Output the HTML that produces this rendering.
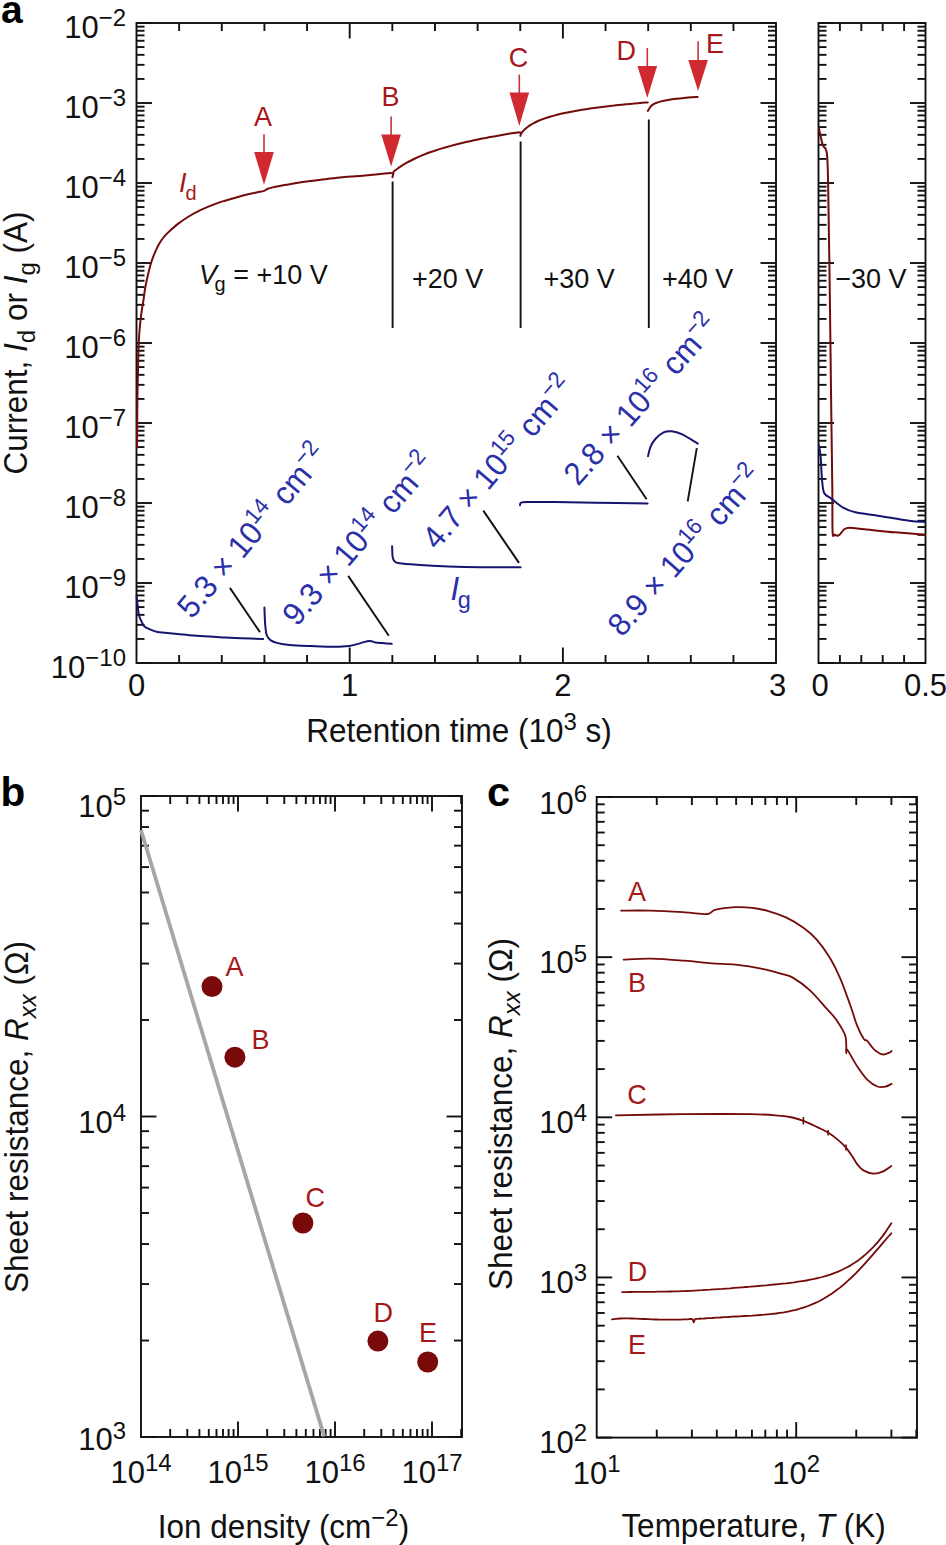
<!DOCTYPE html>
<html><head><meta charset="utf-8"><style>
html,body{margin:0;padding:0;background:#fff;overflow:hidden;width:946px;height:1545px;}
svg{display:block;}
text{font-family:"Liberation Sans",sans-serif;}
</style></head><body>
<svg width="946" height="1545" viewBox="0 0 946 1545">
<rect width="946" height="1545" fill="#fff"/>
<rect x="136.5" y="23" width="639.5" height="640" fill="none" stroke="#111" stroke-width="1.9"/>
<rect x="818.5" y="23" width="107" height="640" fill="none" stroke="#111" stroke-width="1.9"/>
<line x1="136.5" y1="23" x2="152" y2="23" stroke="#111" stroke-width="1.9" />
<line x1="776" y1="23" x2="760.5" y2="23" stroke="#111" stroke-width="1.9" />
<line x1="136.5" y1="78.92" x2="144.5" y2="78.92" stroke="#111" stroke-width="1.9" />
<line x1="776" y1="78.92" x2="768" y2="78.92" stroke="#111" stroke-width="1.9" />
<line x1="136.5" y1="64.83" x2="144.5" y2="64.83" stroke="#111" stroke-width="1.9" />
<line x1="776" y1="64.83" x2="768" y2="64.83" stroke="#111" stroke-width="1.9" />
<line x1="136.5" y1="54.84" x2="144.5" y2="54.84" stroke="#111" stroke-width="1.9" />
<line x1="776" y1="54.84" x2="768" y2="54.84" stroke="#111" stroke-width="1.9" />
<line x1="136.5" y1="47.08" x2="144.5" y2="47.08" stroke="#111" stroke-width="1.9" />
<line x1="776" y1="47.08" x2="768" y2="47.08" stroke="#111" stroke-width="1.9" />
<line x1="136.5" y1="40.75" x2="144.5" y2="40.75" stroke="#111" stroke-width="1.9" />
<line x1="776" y1="40.75" x2="768" y2="40.75" stroke="#111" stroke-width="1.9" />
<line x1="136.5" y1="35.39" x2="144.5" y2="35.39" stroke="#111" stroke-width="1.9" />
<line x1="776" y1="35.39" x2="768" y2="35.39" stroke="#111" stroke-width="1.9" />
<line x1="136.5" y1="30.75" x2="144.5" y2="30.75" stroke="#111" stroke-width="1.9" />
<line x1="776" y1="30.75" x2="768" y2="30.75" stroke="#111" stroke-width="1.9" />
<line x1="136.5" y1="26.66" x2="144.5" y2="26.66" stroke="#111" stroke-width="1.9" />
<line x1="776" y1="26.66" x2="768" y2="26.66" stroke="#111" stroke-width="1.9" />
<line x1="136.5" y1="103" x2="152" y2="103" stroke="#111" stroke-width="1.9" />
<line x1="776" y1="103" x2="760.5" y2="103" stroke="#111" stroke-width="1.9" />
<line x1="136.5" y1="158.92" x2="144.5" y2="158.92" stroke="#111" stroke-width="1.9" />
<line x1="776" y1="158.92" x2="768" y2="158.92" stroke="#111" stroke-width="1.9" />
<line x1="136.5" y1="144.83" x2="144.5" y2="144.83" stroke="#111" stroke-width="1.9" />
<line x1="776" y1="144.83" x2="768" y2="144.83" stroke="#111" stroke-width="1.9" />
<line x1="136.5" y1="134.84" x2="144.5" y2="134.84" stroke="#111" stroke-width="1.9" />
<line x1="776" y1="134.84" x2="768" y2="134.84" stroke="#111" stroke-width="1.9" />
<line x1="136.5" y1="127.08" x2="144.5" y2="127.08" stroke="#111" stroke-width="1.9" />
<line x1="776" y1="127.08" x2="768" y2="127.08" stroke="#111" stroke-width="1.9" />
<line x1="136.5" y1="120.75" x2="144.5" y2="120.75" stroke="#111" stroke-width="1.9" />
<line x1="776" y1="120.75" x2="768" y2="120.75" stroke="#111" stroke-width="1.9" />
<line x1="136.5" y1="115.39" x2="144.5" y2="115.39" stroke="#111" stroke-width="1.9" />
<line x1="776" y1="115.39" x2="768" y2="115.39" stroke="#111" stroke-width="1.9" />
<line x1="136.5" y1="110.75" x2="144.5" y2="110.75" stroke="#111" stroke-width="1.9" />
<line x1="776" y1="110.75" x2="768" y2="110.75" stroke="#111" stroke-width="1.9" />
<line x1="136.5" y1="106.66" x2="144.5" y2="106.66" stroke="#111" stroke-width="1.9" />
<line x1="776" y1="106.66" x2="768" y2="106.66" stroke="#111" stroke-width="1.9" />
<line x1="136.5" y1="183" x2="152" y2="183" stroke="#111" stroke-width="1.9" />
<line x1="776" y1="183" x2="760.5" y2="183" stroke="#111" stroke-width="1.9" />
<line x1="136.5" y1="238.92" x2="144.5" y2="238.92" stroke="#111" stroke-width="1.9" />
<line x1="776" y1="238.92" x2="768" y2="238.92" stroke="#111" stroke-width="1.9" />
<line x1="136.5" y1="224.83" x2="144.5" y2="224.83" stroke="#111" stroke-width="1.9" />
<line x1="776" y1="224.83" x2="768" y2="224.83" stroke="#111" stroke-width="1.9" />
<line x1="136.5" y1="214.84" x2="144.5" y2="214.84" stroke="#111" stroke-width="1.9" />
<line x1="776" y1="214.84" x2="768" y2="214.84" stroke="#111" stroke-width="1.9" />
<line x1="136.5" y1="207.08" x2="144.5" y2="207.08" stroke="#111" stroke-width="1.9" />
<line x1="776" y1="207.08" x2="768" y2="207.08" stroke="#111" stroke-width="1.9" />
<line x1="136.5" y1="200.75" x2="144.5" y2="200.75" stroke="#111" stroke-width="1.9" />
<line x1="776" y1="200.75" x2="768" y2="200.75" stroke="#111" stroke-width="1.9" />
<line x1="136.5" y1="195.39" x2="144.5" y2="195.39" stroke="#111" stroke-width="1.9" />
<line x1="776" y1="195.39" x2="768" y2="195.39" stroke="#111" stroke-width="1.9" />
<line x1="136.5" y1="190.75" x2="144.5" y2="190.75" stroke="#111" stroke-width="1.9" />
<line x1="776" y1="190.75" x2="768" y2="190.75" stroke="#111" stroke-width="1.9" />
<line x1="136.5" y1="186.66" x2="144.5" y2="186.66" stroke="#111" stroke-width="1.9" />
<line x1="776" y1="186.66" x2="768" y2="186.66" stroke="#111" stroke-width="1.9" />
<line x1="136.5" y1="263" x2="152" y2="263" stroke="#111" stroke-width="1.9" />
<line x1="776" y1="263" x2="760.5" y2="263" stroke="#111" stroke-width="1.9" />
<line x1="136.5" y1="318.92" x2="144.5" y2="318.92" stroke="#111" stroke-width="1.9" />
<line x1="776" y1="318.92" x2="768" y2="318.92" stroke="#111" stroke-width="1.9" />
<line x1="136.5" y1="304.83" x2="144.5" y2="304.83" stroke="#111" stroke-width="1.9" />
<line x1="776" y1="304.83" x2="768" y2="304.83" stroke="#111" stroke-width="1.9" />
<line x1="136.5" y1="294.84" x2="144.5" y2="294.84" stroke="#111" stroke-width="1.9" />
<line x1="776" y1="294.84" x2="768" y2="294.84" stroke="#111" stroke-width="1.9" />
<line x1="136.5" y1="287.08" x2="144.5" y2="287.08" stroke="#111" stroke-width="1.9" />
<line x1="776" y1="287.08" x2="768" y2="287.08" stroke="#111" stroke-width="1.9" />
<line x1="136.5" y1="280.75" x2="144.5" y2="280.75" stroke="#111" stroke-width="1.9" />
<line x1="776" y1="280.75" x2="768" y2="280.75" stroke="#111" stroke-width="1.9" />
<line x1="136.5" y1="275.39" x2="144.5" y2="275.39" stroke="#111" stroke-width="1.9" />
<line x1="776" y1="275.39" x2="768" y2="275.39" stroke="#111" stroke-width="1.9" />
<line x1="136.5" y1="270.75" x2="144.5" y2="270.75" stroke="#111" stroke-width="1.9" />
<line x1="776" y1="270.75" x2="768" y2="270.75" stroke="#111" stroke-width="1.9" />
<line x1="136.5" y1="266.66" x2="144.5" y2="266.66" stroke="#111" stroke-width="1.9" />
<line x1="776" y1="266.66" x2="768" y2="266.66" stroke="#111" stroke-width="1.9" />
<line x1="136.5" y1="343" x2="152" y2="343" stroke="#111" stroke-width="1.9" />
<line x1="776" y1="343" x2="760.5" y2="343" stroke="#111" stroke-width="1.9" />
<line x1="136.5" y1="398.92" x2="144.5" y2="398.92" stroke="#111" stroke-width="1.9" />
<line x1="776" y1="398.92" x2="768" y2="398.92" stroke="#111" stroke-width="1.9" />
<line x1="136.5" y1="384.83" x2="144.5" y2="384.83" stroke="#111" stroke-width="1.9" />
<line x1="776" y1="384.83" x2="768" y2="384.83" stroke="#111" stroke-width="1.9" />
<line x1="136.5" y1="374.84" x2="144.5" y2="374.84" stroke="#111" stroke-width="1.9" />
<line x1="776" y1="374.84" x2="768" y2="374.84" stroke="#111" stroke-width="1.9" />
<line x1="136.5" y1="367.08" x2="144.5" y2="367.08" stroke="#111" stroke-width="1.9" />
<line x1="776" y1="367.08" x2="768" y2="367.08" stroke="#111" stroke-width="1.9" />
<line x1="136.5" y1="360.75" x2="144.5" y2="360.75" stroke="#111" stroke-width="1.9" />
<line x1="776" y1="360.75" x2="768" y2="360.75" stroke="#111" stroke-width="1.9" />
<line x1="136.5" y1="355.39" x2="144.5" y2="355.39" stroke="#111" stroke-width="1.9" />
<line x1="776" y1="355.39" x2="768" y2="355.39" stroke="#111" stroke-width="1.9" />
<line x1="136.5" y1="350.75" x2="144.5" y2="350.75" stroke="#111" stroke-width="1.9" />
<line x1="776" y1="350.75" x2="768" y2="350.75" stroke="#111" stroke-width="1.9" />
<line x1="136.5" y1="346.66" x2="144.5" y2="346.66" stroke="#111" stroke-width="1.9" />
<line x1="776" y1="346.66" x2="768" y2="346.66" stroke="#111" stroke-width="1.9" />
<line x1="136.5" y1="423" x2="152" y2="423" stroke="#111" stroke-width="1.9" />
<line x1="776" y1="423" x2="760.5" y2="423" stroke="#111" stroke-width="1.9" />
<line x1="136.5" y1="478.92" x2="144.5" y2="478.92" stroke="#111" stroke-width="1.9" />
<line x1="776" y1="478.92" x2="768" y2="478.92" stroke="#111" stroke-width="1.9" />
<line x1="136.5" y1="464.83" x2="144.5" y2="464.83" stroke="#111" stroke-width="1.9" />
<line x1="776" y1="464.83" x2="768" y2="464.83" stroke="#111" stroke-width="1.9" />
<line x1="136.5" y1="454.84" x2="144.5" y2="454.84" stroke="#111" stroke-width="1.9" />
<line x1="776" y1="454.84" x2="768" y2="454.84" stroke="#111" stroke-width="1.9" />
<line x1="136.5" y1="447.08" x2="144.5" y2="447.08" stroke="#111" stroke-width="1.9" />
<line x1="776" y1="447.08" x2="768" y2="447.08" stroke="#111" stroke-width="1.9" />
<line x1="136.5" y1="440.75" x2="144.5" y2="440.75" stroke="#111" stroke-width="1.9" />
<line x1="776" y1="440.75" x2="768" y2="440.75" stroke="#111" stroke-width="1.9" />
<line x1="136.5" y1="435.39" x2="144.5" y2="435.39" stroke="#111" stroke-width="1.9" />
<line x1="776" y1="435.39" x2="768" y2="435.39" stroke="#111" stroke-width="1.9" />
<line x1="136.5" y1="430.75" x2="144.5" y2="430.75" stroke="#111" stroke-width="1.9" />
<line x1="776" y1="430.75" x2="768" y2="430.75" stroke="#111" stroke-width="1.9" />
<line x1="136.5" y1="426.66" x2="144.5" y2="426.66" stroke="#111" stroke-width="1.9" />
<line x1="776" y1="426.66" x2="768" y2="426.66" stroke="#111" stroke-width="1.9" />
<line x1="136.5" y1="503" x2="152" y2="503" stroke="#111" stroke-width="1.9" />
<line x1="776" y1="503" x2="760.5" y2="503" stroke="#111" stroke-width="1.9" />
<line x1="136.5" y1="558.92" x2="144.5" y2="558.92" stroke="#111" stroke-width="1.9" />
<line x1="776" y1="558.92" x2="768" y2="558.92" stroke="#111" stroke-width="1.9" />
<line x1="136.5" y1="544.83" x2="144.5" y2="544.83" stroke="#111" stroke-width="1.9" />
<line x1="776" y1="544.83" x2="768" y2="544.83" stroke="#111" stroke-width="1.9" />
<line x1="136.5" y1="534.84" x2="144.5" y2="534.84" stroke="#111" stroke-width="1.9" />
<line x1="776" y1="534.84" x2="768" y2="534.84" stroke="#111" stroke-width="1.9" />
<line x1="136.5" y1="527.08" x2="144.5" y2="527.08" stroke="#111" stroke-width="1.9" />
<line x1="776" y1="527.08" x2="768" y2="527.08" stroke="#111" stroke-width="1.9" />
<line x1="136.5" y1="520.75" x2="144.5" y2="520.75" stroke="#111" stroke-width="1.9" />
<line x1="776" y1="520.75" x2="768" y2="520.75" stroke="#111" stroke-width="1.9" />
<line x1="136.5" y1="515.39" x2="144.5" y2="515.39" stroke="#111" stroke-width="1.9" />
<line x1="776" y1="515.39" x2="768" y2="515.39" stroke="#111" stroke-width="1.9" />
<line x1="136.5" y1="510.75" x2="144.5" y2="510.75" stroke="#111" stroke-width="1.9" />
<line x1="776" y1="510.75" x2="768" y2="510.75" stroke="#111" stroke-width="1.9" />
<line x1="136.5" y1="506.66" x2="144.5" y2="506.66" stroke="#111" stroke-width="1.9" />
<line x1="776" y1="506.66" x2="768" y2="506.66" stroke="#111" stroke-width="1.9" />
<line x1="136.5" y1="583" x2="152" y2="583" stroke="#111" stroke-width="1.9" />
<line x1="776" y1="583" x2="760.5" y2="583" stroke="#111" stroke-width="1.9" />
<line x1="136.5" y1="638.92" x2="144.5" y2="638.92" stroke="#111" stroke-width="1.9" />
<line x1="776" y1="638.92" x2="768" y2="638.92" stroke="#111" stroke-width="1.9" />
<line x1="136.5" y1="624.83" x2="144.5" y2="624.83" stroke="#111" stroke-width="1.9" />
<line x1="776" y1="624.83" x2="768" y2="624.83" stroke="#111" stroke-width="1.9" />
<line x1="136.5" y1="614.84" x2="144.5" y2="614.84" stroke="#111" stroke-width="1.9" />
<line x1="776" y1="614.84" x2="768" y2="614.84" stroke="#111" stroke-width="1.9" />
<line x1="136.5" y1="607.08" x2="144.5" y2="607.08" stroke="#111" stroke-width="1.9" />
<line x1="776" y1="607.08" x2="768" y2="607.08" stroke="#111" stroke-width="1.9" />
<line x1="136.5" y1="600.75" x2="144.5" y2="600.75" stroke="#111" stroke-width="1.9" />
<line x1="776" y1="600.75" x2="768" y2="600.75" stroke="#111" stroke-width="1.9" />
<line x1="136.5" y1="595.39" x2="144.5" y2="595.39" stroke="#111" stroke-width="1.9" />
<line x1="776" y1="595.39" x2="768" y2="595.39" stroke="#111" stroke-width="1.9" />
<line x1="136.5" y1="590.75" x2="144.5" y2="590.75" stroke="#111" stroke-width="1.9" />
<line x1="776" y1="590.75" x2="768" y2="590.75" stroke="#111" stroke-width="1.9" />
<line x1="136.5" y1="586.66" x2="144.5" y2="586.66" stroke="#111" stroke-width="1.9" />
<line x1="776" y1="586.66" x2="768" y2="586.66" stroke="#111" stroke-width="1.9" />
<line x1="136.5" y1="663" x2="152" y2="663" stroke="#111" stroke-width="1.9" />
<line x1="776" y1="663" x2="760.5" y2="663" stroke="#111" stroke-width="1.9" />
<line x1="818.5" y1="23" x2="834" y2="23" stroke="#111" stroke-width="1.9" />
<line x1="925.5" y1="23" x2="910" y2="23" stroke="#111" stroke-width="1.9" />
<line x1="818.5" y1="78.92" x2="826.5" y2="78.92" stroke="#111" stroke-width="1.9" />
<line x1="925.5" y1="78.92" x2="917.5" y2="78.92" stroke="#111" stroke-width="1.9" />
<line x1="818.5" y1="64.83" x2="826.5" y2="64.83" stroke="#111" stroke-width="1.9" />
<line x1="925.5" y1="64.83" x2="917.5" y2="64.83" stroke="#111" stroke-width="1.9" />
<line x1="818.5" y1="54.84" x2="826.5" y2="54.84" stroke="#111" stroke-width="1.9" />
<line x1="925.5" y1="54.84" x2="917.5" y2="54.84" stroke="#111" stroke-width="1.9" />
<line x1="818.5" y1="47.08" x2="826.5" y2="47.08" stroke="#111" stroke-width="1.9" />
<line x1="925.5" y1="47.08" x2="917.5" y2="47.08" stroke="#111" stroke-width="1.9" />
<line x1="818.5" y1="40.75" x2="826.5" y2="40.75" stroke="#111" stroke-width="1.9" />
<line x1="925.5" y1="40.75" x2="917.5" y2="40.75" stroke="#111" stroke-width="1.9" />
<line x1="818.5" y1="35.39" x2="826.5" y2="35.39" stroke="#111" stroke-width="1.9" />
<line x1="925.5" y1="35.39" x2="917.5" y2="35.39" stroke="#111" stroke-width="1.9" />
<line x1="818.5" y1="30.75" x2="826.5" y2="30.75" stroke="#111" stroke-width="1.9" />
<line x1="925.5" y1="30.75" x2="917.5" y2="30.75" stroke="#111" stroke-width="1.9" />
<line x1="818.5" y1="26.66" x2="826.5" y2="26.66" stroke="#111" stroke-width="1.9" />
<line x1="925.5" y1="26.66" x2="917.5" y2="26.66" stroke="#111" stroke-width="1.9" />
<line x1="818.5" y1="103" x2="834" y2="103" stroke="#111" stroke-width="1.9" />
<line x1="925.5" y1="103" x2="910" y2="103" stroke="#111" stroke-width="1.9" />
<line x1="818.5" y1="158.92" x2="826.5" y2="158.92" stroke="#111" stroke-width="1.9" />
<line x1="925.5" y1="158.92" x2="917.5" y2="158.92" stroke="#111" stroke-width="1.9" />
<line x1="818.5" y1="144.83" x2="826.5" y2="144.83" stroke="#111" stroke-width="1.9" />
<line x1="925.5" y1="144.83" x2="917.5" y2="144.83" stroke="#111" stroke-width="1.9" />
<line x1="818.5" y1="134.84" x2="826.5" y2="134.84" stroke="#111" stroke-width="1.9" />
<line x1="925.5" y1="134.84" x2="917.5" y2="134.84" stroke="#111" stroke-width="1.9" />
<line x1="818.5" y1="127.08" x2="826.5" y2="127.08" stroke="#111" stroke-width="1.9" />
<line x1="925.5" y1="127.08" x2="917.5" y2="127.08" stroke="#111" stroke-width="1.9" />
<line x1="818.5" y1="120.75" x2="826.5" y2="120.75" stroke="#111" stroke-width="1.9" />
<line x1="925.5" y1="120.75" x2="917.5" y2="120.75" stroke="#111" stroke-width="1.9" />
<line x1="818.5" y1="115.39" x2="826.5" y2="115.39" stroke="#111" stroke-width="1.9" />
<line x1="925.5" y1="115.39" x2="917.5" y2="115.39" stroke="#111" stroke-width="1.9" />
<line x1="818.5" y1="110.75" x2="826.5" y2="110.75" stroke="#111" stroke-width="1.9" />
<line x1="925.5" y1="110.75" x2="917.5" y2="110.75" stroke="#111" stroke-width="1.9" />
<line x1="818.5" y1="106.66" x2="826.5" y2="106.66" stroke="#111" stroke-width="1.9" />
<line x1="925.5" y1="106.66" x2="917.5" y2="106.66" stroke="#111" stroke-width="1.9" />
<line x1="818.5" y1="183" x2="834" y2="183" stroke="#111" stroke-width="1.9" />
<line x1="925.5" y1="183" x2="910" y2="183" stroke="#111" stroke-width="1.9" />
<line x1="818.5" y1="238.92" x2="826.5" y2="238.92" stroke="#111" stroke-width="1.9" />
<line x1="925.5" y1="238.92" x2="917.5" y2="238.92" stroke="#111" stroke-width="1.9" />
<line x1="818.5" y1="224.83" x2="826.5" y2="224.83" stroke="#111" stroke-width="1.9" />
<line x1="925.5" y1="224.83" x2="917.5" y2="224.83" stroke="#111" stroke-width="1.9" />
<line x1="818.5" y1="214.84" x2="826.5" y2="214.84" stroke="#111" stroke-width="1.9" />
<line x1="925.5" y1="214.84" x2="917.5" y2="214.84" stroke="#111" stroke-width="1.9" />
<line x1="818.5" y1="207.08" x2="826.5" y2="207.08" stroke="#111" stroke-width="1.9" />
<line x1="925.5" y1="207.08" x2="917.5" y2="207.08" stroke="#111" stroke-width="1.9" />
<line x1="818.5" y1="200.75" x2="826.5" y2="200.75" stroke="#111" stroke-width="1.9" />
<line x1="925.5" y1="200.75" x2="917.5" y2="200.75" stroke="#111" stroke-width="1.9" />
<line x1="818.5" y1="195.39" x2="826.5" y2="195.39" stroke="#111" stroke-width="1.9" />
<line x1="925.5" y1="195.39" x2="917.5" y2="195.39" stroke="#111" stroke-width="1.9" />
<line x1="818.5" y1="190.75" x2="826.5" y2="190.75" stroke="#111" stroke-width="1.9" />
<line x1="925.5" y1="190.75" x2="917.5" y2="190.75" stroke="#111" stroke-width="1.9" />
<line x1="818.5" y1="186.66" x2="826.5" y2="186.66" stroke="#111" stroke-width="1.9" />
<line x1="925.5" y1="186.66" x2="917.5" y2="186.66" stroke="#111" stroke-width="1.9" />
<line x1="818.5" y1="263" x2="834" y2="263" stroke="#111" stroke-width="1.9" />
<line x1="925.5" y1="263" x2="910" y2="263" stroke="#111" stroke-width="1.9" />
<line x1="818.5" y1="318.92" x2="826.5" y2="318.92" stroke="#111" stroke-width="1.9" />
<line x1="925.5" y1="318.92" x2="917.5" y2="318.92" stroke="#111" stroke-width="1.9" />
<line x1="818.5" y1="304.83" x2="826.5" y2="304.83" stroke="#111" stroke-width="1.9" />
<line x1="925.5" y1="304.83" x2="917.5" y2="304.83" stroke="#111" stroke-width="1.9" />
<line x1="818.5" y1="294.84" x2="826.5" y2="294.84" stroke="#111" stroke-width="1.9" />
<line x1="925.5" y1="294.84" x2="917.5" y2="294.84" stroke="#111" stroke-width="1.9" />
<line x1="818.5" y1="287.08" x2="826.5" y2="287.08" stroke="#111" stroke-width="1.9" />
<line x1="925.5" y1="287.08" x2="917.5" y2="287.08" stroke="#111" stroke-width="1.9" />
<line x1="818.5" y1="280.75" x2="826.5" y2="280.75" stroke="#111" stroke-width="1.9" />
<line x1="925.5" y1="280.75" x2="917.5" y2="280.75" stroke="#111" stroke-width="1.9" />
<line x1="818.5" y1="275.39" x2="826.5" y2="275.39" stroke="#111" stroke-width="1.9" />
<line x1="925.5" y1="275.39" x2="917.5" y2="275.39" stroke="#111" stroke-width="1.9" />
<line x1="818.5" y1="270.75" x2="826.5" y2="270.75" stroke="#111" stroke-width="1.9" />
<line x1="925.5" y1="270.75" x2="917.5" y2="270.75" stroke="#111" stroke-width="1.9" />
<line x1="818.5" y1="266.66" x2="826.5" y2="266.66" stroke="#111" stroke-width="1.9" />
<line x1="925.5" y1="266.66" x2="917.5" y2="266.66" stroke="#111" stroke-width="1.9" />
<line x1="818.5" y1="343" x2="834" y2="343" stroke="#111" stroke-width="1.9" />
<line x1="925.5" y1="343" x2="910" y2="343" stroke="#111" stroke-width="1.9" />
<line x1="818.5" y1="398.92" x2="826.5" y2="398.92" stroke="#111" stroke-width="1.9" />
<line x1="925.5" y1="398.92" x2="917.5" y2="398.92" stroke="#111" stroke-width="1.9" />
<line x1="818.5" y1="384.83" x2="826.5" y2="384.83" stroke="#111" stroke-width="1.9" />
<line x1="925.5" y1="384.83" x2="917.5" y2="384.83" stroke="#111" stroke-width="1.9" />
<line x1="818.5" y1="374.84" x2="826.5" y2="374.84" stroke="#111" stroke-width="1.9" />
<line x1="925.5" y1="374.84" x2="917.5" y2="374.84" stroke="#111" stroke-width="1.9" />
<line x1="818.5" y1="367.08" x2="826.5" y2="367.08" stroke="#111" stroke-width="1.9" />
<line x1="925.5" y1="367.08" x2="917.5" y2="367.08" stroke="#111" stroke-width="1.9" />
<line x1="818.5" y1="360.75" x2="826.5" y2="360.75" stroke="#111" stroke-width="1.9" />
<line x1="925.5" y1="360.75" x2="917.5" y2="360.75" stroke="#111" stroke-width="1.9" />
<line x1="818.5" y1="355.39" x2="826.5" y2="355.39" stroke="#111" stroke-width="1.9" />
<line x1="925.5" y1="355.39" x2="917.5" y2="355.39" stroke="#111" stroke-width="1.9" />
<line x1="818.5" y1="350.75" x2="826.5" y2="350.75" stroke="#111" stroke-width="1.9" />
<line x1="925.5" y1="350.75" x2="917.5" y2="350.75" stroke="#111" stroke-width="1.9" />
<line x1="818.5" y1="346.66" x2="826.5" y2="346.66" stroke="#111" stroke-width="1.9" />
<line x1="925.5" y1="346.66" x2="917.5" y2="346.66" stroke="#111" stroke-width="1.9" />
<line x1="818.5" y1="423" x2="834" y2="423" stroke="#111" stroke-width="1.9" />
<line x1="925.5" y1="423" x2="910" y2="423" stroke="#111" stroke-width="1.9" />
<line x1="818.5" y1="478.92" x2="826.5" y2="478.92" stroke="#111" stroke-width="1.9" />
<line x1="925.5" y1="478.92" x2="917.5" y2="478.92" stroke="#111" stroke-width="1.9" />
<line x1="818.5" y1="464.83" x2="826.5" y2="464.83" stroke="#111" stroke-width="1.9" />
<line x1="925.5" y1="464.83" x2="917.5" y2="464.83" stroke="#111" stroke-width="1.9" />
<line x1="818.5" y1="454.84" x2="826.5" y2="454.84" stroke="#111" stroke-width="1.9" />
<line x1="925.5" y1="454.84" x2="917.5" y2="454.84" stroke="#111" stroke-width="1.9" />
<line x1="818.5" y1="447.08" x2="826.5" y2="447.08" stroke="#111" stroke-width="1.9" />
<line x1="925.5" y1="447.08" x2="917.5" y2="447.08" stroke="#111" stroke-width="1.9" />
<line x1="818.5" y1="440.75" x2="826.5" y2="440.75" stroke="#111" stroke-width="1.9" />
<line x1="925.5" y1="440.75" x2="917.5" y2="440.75" stroke="#111" stroke-width="1.9" />
<line x1="818.5" y1="435.39" x2="826.5" y2="435.39" stroke="#111" stroke-width="1.9" />
<line x1="925.5" y1="435.39" x2="917.5" y2="435.39" stroke="#111" stroke-width="1.9" />
<line x1="818.5" y1="430.75" x2="826.5" y2="430.75" stroke="#111" stroke-width="1.9" />
<line x1="925.5" y1="430.75" x2="917.5" y2="430.75" stroke="#111" stroke-width="1.9" />
<line x1="818.5" y1="426.66" x2="826.5" y2="426.66" stroke="#111" stroke-width="1.9" />
<line x1="925.5" y1="426.66" x2="917.5" y2="426.66" stroke="#111" stroke-width="1.9" />
<line x1="818.5" y1="503" x2="834" y2="503" stroke="#111" stroke-width="1.9" />
<line x1="925.5" y1="503" x2="910" y2="503" stroke="#111" stroke-width="1.9" />
<line x1="818.5" y1="558.92" x2="826.5" y2="558.92" stroke="#111" stroke-width="1.9" />
<line x1="925.5" y1="558.92" x2="917.5" y2="558.92" stroke="#111" stroke-width="1.9" />
<line x1="818.5" y1="544.83" x2="826.5" y2="544.83" stroke="#111" stroke-width="1.9" />
<line x1="925.5" y1="544.83" x2="917.5" y2="544.83" stroke="#111" stroke-width="1.9" />
<line x1="818.5" y1="534.84" x2="826.5" y2="534.84" stroke="#111" stroke-width="1.9" />
<line x1="925.5" y1="534.84" x2="917.5" y2="534.84" stroke="#111" stroke-width="1.9" />
<line x1="818.5" y1="527.08" x2="826.5" y2="527.08" stroke="#111" stroke-width="1.9" />
<line x1="925.5" y1="527.08" x2="917.5" y2="527.08" stroke="#111" stroke-width="1.9" />
<line x1="818.5" y1="520.75" x2="826.5" y2="520.75" stroke="#111" stroke-width="1.9" />
<line x1="925.5" y1="520.75" x2="917.5" y2="520.75" stroke="#111" stroke-width="1.9" />
<line x1="818.5" y1="515.39" x2="826.5" y2="515.39" stroke="#111" stroke-width="1.9" />
<line x1="925.5" y1="515.39" x2="917.5" y2="515.39" stroke="#111" stroke-width="1.9" />
<line x1="818.5" y1="510.75" x2="826.5" y2="510.75" stroke="#111" stroke-width="1.9" />
<line x1="925.5" y1="510.75" x2="917.5" y2="510.75" stroke="#111" stroke-width="1.9" />
<line x1="818.5" y1="506.66" x2="826.5" y2="506.66" stroke="#111" stroke-width="1.9" />
<line x1="925.5" y1="506.66" x2="917.5" y2="506.66" stroke="#111" stroke-width="1.9" />
<line x1="818.5" y1="583" x2="834" y2="583" stroke="#111" stroke-width="1.9" />
<line x1="925.5" y1="583" x2="910" y2="583" stroke="#111" stroke-width="1.9" />
<line x1="818.5" y1="638.92" x2="826.5" y2="638.92" stroke="#111" stroke-width="1.9" />
<line x1="925.5" y1="638.92" x2="917.5" y2="638.92" stroke="#111" stroke-width="1.9" />
<line x1="818.5" y1="624.83" x2="826.5" y2="624.83" stroke="#111" stroke-width="1.9" />
<line x1="925.5" y1="624.83" x2="917.5" y2="624.83" stroke="#111" stroke-width="1.9" />
<line x1="818.5" y1="614.84" x2="826.5" y2="614.84" stroke="#111" stroke-width="1.9" />
<line x1="925.5" y1="614.84" x2="917.5" y2="614.84" stroke="#111" stroke-width="1.9" />
<line x1="818.5" y1="607.08" x2="826.5" y2="607.08" stroke="#111" stroke-width="1.9" />
<line x1="925.5" y1="607.08" x2="917.5" y2="607.08" stroke="#111" stroke-width="1.9" />
<line x1="818.5" y1="600.75" x2="826.5" y2="600.75" stroke="#111" stroke-width="1.9" />
<line x1="925.5" y1="600.75" x2="917.5" y2="600.75" stroke="#111" stroke-width="1.9" />
<line x1="818.5" y1="595.39" x2="826.5" y2="595.39" stroke="#111" stroke-width="1.9" />
<line x1="925.5" y1="595.39" x2="917.5" y2="595.39" stroke="#111" stroke-width="1.9" />
<line x1="818.5" y1="590.75" x2="826.5" y2="590.75" stroke="#111" stroke-width="1.9" />
<line x1="925.5" y1="590.75" x2="917.5" y2="590.75" stroke="#111" stroke-width="1.9" />
<line x1="818.5" y1="586.66" x2="826.5" y2="586.66" stroke="#111" stroke-width="1.9" />
<line x1="925.5" y1="586.66" x2="917.5" y2="586.66" stroke="#111" stroke-width="1.9" />
<line x1="818.5" y1="663" x2="834" y2="663" stroke="#111" stroke-width="1.9" />
<line x1="925.5" y1="663" x2="910" y2="663" stroke="#111" stroke-width="1.9" />
<line x1="179.14" y1="23" x2="179.14" y2="31" stroke="#111" stroke-width="1.9" />
<line x1="179.14" y1="663" x2="179.14" y2="655" stroke="#111" stroke-width="1.9" />
<line x1="221.78" y1="23" x2="221.78" y2="31" stroke="#111" stroke-width="1.9" />
<line x1="221.78" y1="663" x2="221.78" y2="655" stroke="#111" stroke-width="1.9" />
<line x1="264.42" y1="23" x2="264.42" y2="31" stroke="#111" stroke-width="1.9" />
<line x1="264.42" y1="663" x2="264.42" y2="655" stroke="#111" stroke-width="1.9" />
<line x1="307.06" y1="23" x2="307.06" y2="31" stroke="#111" stroke-width="1.9" />
<line x1="307.06" y1="663" x2="307.06" y2="655" stroke="#111" stroke-width="1.9" />
<line x1="349.7" y1="23" x2="349.7" y2="38.5" stroke="#111" stroke-width="1.9" />
<line x1="349.7" y1="663" x2="349.7" y2="647.5" stroke="#111" stroke-width="1.9" />
<line x1="392.34" y1="23" x2="392.34" y2="31" stroke="#111" stroke-width="1.9" />
<line x1="392.34" y1="663" x2="392.34" y2="655" stroke="#111" stroke-width="1.9" />
<line x1="434.98" y1="23" x2="434.98" y2="31" stroke="#111" stroke-width="1.9" />
<line x1="434.98" y1="663" x2="434.98" y2="655" stroke="#111" stroke-width="1.9" />
<line x1="477.62" y1="23" x2="477.62" y2="31" stroke="#111" stroke-width="1.9" />
<line x1="477.62" y1="663" x2="477.62" y2="655" stroke="#111" stroke-width="1.9" />
<line x1="520.26" y1="23" x2="520.26" y2="31" stroke="#111" stroke-width="1.9" />
<line x1="520.26" y1="663" x2="520.26" y2="655" stroke="#111" stroke-width="1.9" />
<line x1="562.9" y1="23" x2="562.9" y2="38.5" stroke="#111" stroke-width="1.9" />
<line x1="562.9" y1="663" x2="562.9" y2="647.5" stroke="#111" stroke-width="1.9" />
<line x1="605.54" y1="23" x2="605.54" y2="31" stroke="#111" stroke-width="1.9" />
<line x1="605.54" y1="663" x2="605.54" y2="655" stroke="#111" stroke-width="1.9" />
<line x1="648.18" y1="23" x2="648.18" y2="31" stroke="#111" stroke-width="1.9" />
<line x1="648.18" y1="663" x2="648.18" y2="655" stroke="#111" stroke-width="1.9" />
<line x1="690.82" y1="23" x2="690.82" y2="31" stroke="#111" stroke-width="1.9" />
<line x1="690.82" y1="663" x2="690.82" y2="655" stroke="#111" stroke-width="1.9" />
<line x1="733.46" y1="23" x2="733.46" y2="31" stroke="#111" stroke-width="1.9" />
<line x1="733.46" y1="663" x2="733.46" y2="655" stroke="#111" stroke-width="1.9" />
<line x1="839.9" y1="23" x2="839.9" y2="31" stroke="#111" stroke-width="1.9" />
<line x1="839.9" y1="663" x2="839.9" y2="655" stroke="#111" stroke-width="1.9" />
<line x1="861.3" y1="23" x2="861.3" y2="31" stroke="#111" stroke-width="1.9" />
<line x1="861.3" y1="663" x2="861.3" y2="655" stroke="#111" stroke-width="1.9" />
<line x1="882.7" y1="23" x2="882.7" y2="31" stroke="#111" stroke-width="1.9" />
<line x1="882.7" y1="663" x2="882.7" y2="655" stroke="#111" stroke-width="1.9" />
<line x1="904.1" y1="23" x2="904.1" y2="31" stroke="#111" stroke-width="1.9" />
<line x1="904.1" y1="663" x2="904.1" y2="655" stroke="#111" stroke-width="1.9" />
<text transform="translate(126,37.8) scale(1,1.035)" font-size="31" text-anchor="end" fill="#111" >10<tspan font-size="24" dy="-11.5">&#8722;2</tspan></text>
<text transform="translate(126,117.8) scale(1,1.035)" font-size="31" text-anchor="end" fill="#111" >10<tspan font-size="24" dy="-11.5">&#8722;3</tspan></text>
<text transform="translate(126,197.8) scale(1,1.035)" font-size="31" text-anchor="end" fill="#111" >10<tspan font-size="24" dy="-11.5">&#8722;4</tspan></text>
<text transform="translate(126,277.8) scale(1,1.035)" font-size="31" text-anchor="end" fill="#111" >10<tspan font-size="24" dy="-11.5">&#8722;5</tspan></text>
<text transform="translate(126,357.8) scale(1,1.035)" font-size="31" text-anchor="end" fill="#111" >10<tspan font-size="24" dy="-11.5">&#8722;6</tspan></text>
<text transform="translate(126,437.8) scale(1,1.035)" font-size="31" text-anchor="end" fill="#111" >10<tspan font-size="24" dy="-11.5">&#8722;7</tspan></text>
<text transform="translate(126,517.8) scale(1,1.035)" font-size="31" text-anchor="end" fill="#111" >10<tspan font-size="24" dy="-11.5">&#8722;8</tspan></text>
<text transform="translate(126,597.8) scale(1,1.035)" font-size="31" text-anchor="end" fill="#111" >10<tspan font-size="24" dy="-11.5">&#8722;9</tspan></text>
<text transform="translate(126,677.8) scale(1,1.035)" font-size="31" text-anchor="end" fill="#111" >10<tspan font-size="24" dy="-11.5">&#8722;10</tspan></text>
<text transform="translate(136.5,695.5) scale(1,1.035)" font-size="31" text-anchor="middle" fill="#111" >0</text>
<text transform="translate(349.7,695.5) scale(1,1.035)" font-size="31" text-anchor="middle" fill="#111" >1</text>
<text transform="translate(562.9,695.5) scale(1,1.035)" font-size="31" text-anchor="middle" fill="#111" >2</text>
<text transform="translate(777.6,695.5) scale(1,1.035)" font-size="31" text-anchor="middle" fill="#111" >3</text>
<text transform="translate(820,695.5) scale(1,1.035)" font-size="31" text-anchor="middle" fill="#111" >0</text>
<text transform="translate(925.5,695.5) scale(1,1.035)" font-size="31" text-anchor="middle" fill="#111" >0.5</text>
<text transform="translate(459,742) scale(1,1.035)" font-size="31.5" text-anchor="middle" fill="#111" >Retention time (10<tspan font-size="24" dy="-11.5">3</tspan><tspan dy="11.5"> s)</tspan></text>
<text transform="translate(27,343) rotate(-90) scale(1,1.035)" font-size="31.5" text-anchor="middle" fill="#111">Current, <tspan font-style="italic">I</tspan><tspan font-size="24" dy="8">d</tspan><tspan dy="-8"> or </tspan><tspan font-style="italic">I</tspan><tspan font-size="24" dy="8">g</tspan><tspan dy="-8"> (A)</tspan></text>
<text x="1" y="23.3" font-size="39" font-weight="bold" fill="#000">a</text>
<rect x="141" y="796" width="321" height="641" fill="none" stroke="#111" stroke-width="1.9"/>
<line x1="141" y1="796" x2="156.5" y2="796" stroke="#111" stroke-width="1.9" />
<line x1="462" y1="796" x2="446.5" y2="796" stroke="#111" stroke-width="1.9" />
<line x1="141" y1="1020.02" x2="149" y2="1020.02" stroke="#111" stroke-width="1.9" />
<line x1="462" y1="1020.02" x2="454" y2="1020.02" stroke="#111" stroke-width="1.9" />
<line x1="141" y1="963.58" x2="149" y2="963.58" stroke="#111" stroke-width="1.9" />
<line x1="462" y1="963.58" x2="454" y2="963.58" stroke="#111" stroke-width="1.9" />
<line x1="141" y1="923.54" x2="149" y2="923.54" stroke="#111" stroke-width="1.9" />
<line x1="462" y1="923.54" x2="454" y2="923.54" stroke="#111" stroke-width="1.9" />
<line x1="141" y1="892.48" x2="149" y2="892.48" stroke="#111" stroke-width="1.9" />
<line x1="462" y1="892.48" x2="454" y2="892.48" stroke="#111" stroke-width="1.9" />
<line x1="141" y1="867.1" x2="149" y2="867.1" stroke="#111" stroke-width="1.9" />
<line x1="462" y1="867.1" x2="454" y2="867.1" stroke="#111" stroke-width="1.9" />
<line x1="141" y1="845.65" x2="149" y2="845.65" stroke="#111" stroke-width="1.9" />
<line x1="462" y1="845.65" x2="454" y2="845.65" stroke="#111" stroke-width="1.9" />
<line x1="141" y1="827.06" x2="149" y2="827.06" stroke="#111" stroke-width="1.9" />
<line x1="462" y1="827.06" x2="454" y2="827.06" stroke="#111" stroke-width="1.9" />
<line x1="141" y1="810.67" x2="149" y2="810.67" stroke="#111" stroke-width="1.9" />
<line x1="462" y1="810.67" x2="454" y2="810.67" stroke="#111" stroke-width="1.9" />
<line x1="141" y1="1116.5" x2="156.5" y2="1116.5" stroke="#111" stroke-width="1.9" />
<line x1="462" y1="1116.5" x2="446.5" y2="1116.5" stroke="#111" stroke-width="1.9" />
<line x1="141" y1="1340.52" x2="149" y2="1340.52" stroke="#111" stroke-width="1.9" />
<line x1="462" y1="1340.52" x2="454" y2="1340.52" stroke="#111" stroke-width="1.9" />
<line x1="141" y1="1284.08" x2="149" y2="1284.08" stroke="#111" stroke-width="1.9" />
<line x1="462" y1="1284.08" x2="454" y2="1284.08" stroke="#111" stroke-width="1.9" />
<line x1="141" y1="1244.04" x2="149" y2="1244.04" stroke="#111" stroke-width="1.9" />
<line x1="462" y1="1244.04" x2="454" y2="1244.04" stroke="#111" stroke-width="1.9" />
<line x1="141" y1="1212.98" x2="149" y2="1212.98" stroke="#111" stroke-width="1.9" />
<line x1="462" y1="1212.98" x2="454" y2="1212.98" stroke="#111" stroke-width="1.9" />
<line x1="141" y1="1187.6" x2="149" y2="1187.6" stroke="#111" stroke-width="1.9" />
<line x1="462" y1="1187.6" x2="454" y2="1187.6" stroke="#111" stroke-width="1.9" />
<line x1="141" y1="1166.15" x2="149" y2="1166.15" stroke="#111" stroke-width="1.9" />
<line x1="462" y1="1166.15" x2="454" y2="1166.15" stroke="#111" stroke-width="1.9" />
<line x1="141" y1="1147.56" x2="149" y2="1147.56" stroke="#111" stroke-width="1.9" />
<line x1="462" y1="1147.56" x2="454" y2="1147.56" stroke="#111" stroke-width="1.9" />
<line x1="141" y1="1131.17" x2="149" y2="1131.17" stroke="#111" stroke-width="1.9" />
<line x1="462" y1="1131.17" x2="454" y2="1131.17" stroke="#111" stroke-width="1.9" />
<line x1="141" y1="1437" x2="156.5" y2="1437" stroke="#111" stroke-width="1.9" />
<line x1="462" y1="1437" x2="446.5" y2="1437" stroke="#111" stroke-width="1.9" />
<line x1="170.2" y1="796" x2="170.2" y2="804" stroke="#111" stroke-width="1.9" />
<line x1="170.2" y1="1437" x2="170.2" y2="1429" stroke="#111" stroke-width="1.9" />
<line x1="187.28" y1="796" x2="187.28" y2="804" stroke="#111" stroke-width="1.9" />
<line x1="187.28" y1="1437" x2="187.28" y2="1429" stroke="#111" stroke-width="1.9" />
<line x1="199.4" y1="796" x2="199.4" y2="804" stroke="#111" stroke-width="1.9" />
<line x1="199.4" y1="1437" x2="199.4" y2="1429" stroke="#111" stroke-width="1.9" />
<line x1="208.8" y1="796" x2="208.8" y2="804" stroke="#111" stroke-width="1.9" />
<line x1="208.8" y1="1437" x2="208.8" y2="1429" stroke="#111" stroke-width="1.9" />
<line x1="216.48" y1="796" x2="216.48" y2="804" stroke="#111" stroke-width="1.9" />
<line x1="216.48" y1="1437" x2="216.48" y2="1429" stroke="#111" stroke-width="1.9" />
<line x1="222.97" y1="796" x2="222.97" y2="804" stroke="#111" stroke-width="1.9" />
<line x1="222.97" y1="1437" x2="222.97" y2="1429" stroke="#111" stroke-width="1.9" />
<line x1="228.6" y1="796" x2="228.6" y2="804" stroke="#111" stroke-width="1.9" />
<line x1="228.6" y1="1437" x2="228.6" y2="1429" stroke="#111" stroke-width="1.9" />
<line x1="233.56" y1="796" x2="233.56" y2="804" stroke="#111" stroke-width="1.9" />
<line x1="233.56" y1="1437" x2="233.56" y2="1429" stroke="#111" stroke-width="1.9" />
<line x1="238" y1="796" x2="238" y2="811.5" stroke="#111" stroke-width="1.9" />
<line x1="238" y1="1437" x2="238" y2="1421.5" stroke="#111" stroke-width="1.9" />
<line x1="267.2" y1="796" x2="267.2" y2="804" stroke="#111" stroke-width="1.9" />
<line x1="267.2" y1="1437" x2="267.2" y2="1429" stroke="#111" stroke-width="1.9" />
<line x1="284.28" y1="796" x2="284.28" y2="804" stroke="#111" stroke-width="1.9" />
<line x1="284.28" y1="1437" x2="284.28" y2="1429" stroke="#111" stroke-width="1.9" />
<line x1="296.4" y1="796" x2="296.4" y2="804" stroke="#111" stroke-width="1.9" />
<line x1="296.4" y1="1437" x2="296.4" y2="1429" stroke="#111" stroke-width="1.9" />
<line x1="305.8" y1="796" x2="305.8" y2="804" stroke="#111" stroke-width="1.9" />
<line x1="305.8" y1="1437" x2="305.8" y2="1429" stroke="#111" stroke-width="1.9" />
<line x1="313.48" y1="796" x2="313.48" y2="804" stroke="#111" stroke-width="1.9" />
<line x1="313.48" y1="1437" x2="313.48" y2="1429" stroke="#111" stroke-width="1.9" />
<line x1="319.97" y1="796" x2="319.97" y2="804" stroke="#111" stroke-width="1.9" />
<line x1="319.97" y1="1437" x2="319.97" y2="1429" stroke="#111" stroke-width="1.9" />
<line x1="325.6" y1="796" x2="325.6" y2="804" stroke="#111" stroke-width="1.9" />
<line x1="325.6" y1="1437" x2="325.6" y2="1429" stroke="#111" stroke-width="1.9" />
<line x1="330.56" y1="796" x2="330.56" y2="804" stroke="#111" stroke-width="1.9" />
<line x1="330.56" y1="1437" x2="330.56" y2="1429" stroke="#111" stroke-width="1.9" />
<line x1="335" y1="796" x2="335" y2="811.5" stroke="#111" stroke-width="1.9" />
<line x1="335" y1="1437" x2="335" y2="1421.5" stroke="#111" stroke-width="1.9" />
<line x1="364.2" y1="796" x2="364.2" y2="804" stroke="#111" stroke-width="1.9" />
<line x1="364.2" y1="1437" x2="364.2" y2="1429" stroke="#111" stroke-width="1.9" />
<line x1="381.28" y1="796" x2="381.28" y2="804" stroke="#111" stroke-width="1.9" />
<line x1="381.28" y1="1437" x2="381.28" y2="1429" stroke="#111" stroke-width="1.9" />
<line x1="393.4" y1="796" x2="393.4" y2="804" stroke="#111" stroke-width="1.9" />
<line x1="393.4" y1="1437" x2="393.4" y2="1429" stroke="#111" stroke-width="1.9" />
<line x1="402.8" y1="796" x2="402.8" y2="804" stroke="#111" stroke-width="1.9" />
<line x1="402.8" y1="1437" x2="402.8" y2="1429" stroke="#111" stroke-width="1.9" />
<line x1="410.48" y1="796" x2="410.48" y2="804" stroke="#111" stroke-width="1.9" />
<line x1="410.48" y1="1437" x2="410.48" y2="1429" stroke="#111" stroke-width="1.9" />
<line x1="416.97" y1="796" x2="416.97" y2="804" stroke="#111" stroke-width="1.9" />
<line x1="416.97" y1="1437" x2="416.97" y2="1429" stroke="#111" stroke-width="1.9" />
<line x1="422.6" y1="796" x2="422.6" y2="804" stroke="#111" stroke-width="1.9" />
<line x1="422.6" y1="1437" x2="422.6" y2="1429" stroke="#111" stroke-width="1.9" />
<line x1="427.56" y1="796" x2="427.56" y2="804" stroke="#111" stroke-width="1.9" />
<line x1="427.56" y1="1437" x2="427.56" y2="1429" stroke="#111" stroke-width="1.9" />
<line x1="432" y1="796" x2="432" y2="811.5" stroke="#111" stroke-width="1.9" />
<line x1="432" y1="1437" x2="432" y2="1421.5" stroke="#111" stroke-width="1.9" />
<line x1="461.2" y1="796" x2="461.2" y2="804" stroke="#111" stroke-width="1.9" />
<line x1="461.2" y1="1437" x2="461.2" y2="1429" stroke="#111" stroke-width="1.9" />
<text transform="translate(126,816.5) scale(1,1.035)" font-size="31" text-anchor="end" fill="#111" >10<tspan font-size="24" dy="-11.5">5</tspan></text>
<text transform="translate(126,1133.2) scale(1,1.035)" font-size="31" text-anchor="end" fill="#111" >10<tspan font-size="24" dy="-11.5">4</tspan></text>
<text transform="translate(126,1450.4) scale(1,1.035)" font-size="31" text-anchor="end" fill="#111" >10<tspan font-size="24" dy="-11.5">3</tspan></text>
<text transform="translate(141,1482.5) scale(1,1.035)" font-size="31" text-anchor="middle" fill="#111" >10<tspan font-size="24" dy="-11.5">14</tspan></text>
<text transform="translate(238,1482.5) scale(1,1.035)" font-size="31" text-anchor="middle" fill="#111" >10<tspan font-size="24" dy="-11.5">15</tspan></text>
<text transform="translate(335,1482.5) scale(1,1.035)" font-size="31" text-anchor="middle" fill="#111" >10<tspan font-size="24" dy="-11.5">16</tspan></text>
<text transform="translate(432,1482.5) scale(1,1.035)" font-size="31" text-anchor="middle" fill="#111" >10<tspan font-size="24" dy="-11.5">17</tspan></text>
<text transform="translate(283.5,1538) scale(1,1.035)" font-size="31.5" text-anchor="middle" fill="#111" >Ion density (cm<tspan font-size="24" dy="-11.5">&#8722;2</tspan><tspan dy="11.5">)</tspan></text>
<text transform="translate(27.5,1117) rotate(-90) scale(1,1.035)" font-size="31.5" text-anchor="middle" fill="#111">Sheet resistance, <tspan font-style="italic">R</tspan><tspan font-size="24" dy="8" font-style="italic">xx</tspan><tspan dy="-8"> (&#937;)</tspan></text>
<text x="0.5" y="806" font-size="40.5" font-weight="bold" fill="#000">b</text>
<rect x="596.7" y="797" width="320.3" height="640.6" fill="none" stroke="#111" stroke-width="1.9"/>
<line x1="596.7" y1="797" x2="612.2" y2="797" stroke="#111" stroke-width="1.9" />
<line x1="917" y1="797" x2="901.5" y2="797" stroke="#111" stroke-width="1.9" />
<line x1="596.7" y1="908.94" x2="604.7" y2="908.94" stroke="#111" stroke-width="1.9" />
<line x1="917" y1="908.94" x2="909" y2="908.94" stroke="#111" stroke-width="1.9" />
<line x1="596.7" y1="880.74" x2="604.7" y2="880.74" stroke="#111" stroke-width="1.9" />
<line x1="917" y1="880.74" x2="909" y2="880.74" stroke="#111" stroke-width="1.9" />
<line x1="596.7" y1="860.73" x2="604.7" y2="860.73" stroke="#111" stroke-width="1.9" />
<line x1="917" y1="860.73" x2="909" y2="860.73" stroke="#111" stroke-width="1.9" />
<line x1="596.7" y1="845.21" x2="604.7" y2="845.21" stroke="#111" stroke-width="1.9" />
<line x1="917" y1="845.21" x2="909" y2="845.21" stroke="#111" stroke-width="1.9" />
<line x1="596.7" y1="832.53" x2="604.7" y2="832.53" stroke="#111" stroke-width="1.9" />
<line x1="917" y1="832.53" x2="909" y2="832.53" stroke="#111" stroke-width="1.9" />
<line x1="596.7" y1="821.81" x2="604.7" y2="821.81" stroke="#111" stroke-width="1.9" />
<line x1="917" y1="821.81" x2="909" y2="821.81" stroke="#111" stroke-width="1.9" />
<line x1="596.7" y1="812.52" x2="604.7" y2="812.52" stroke="#111" stroke-width="1.9" />
<line x1="917" y1="812.52" x2="909" y2="812.52" stroke="#111" stroke-width="1.9" />
<line x1="596.7" y1="804.33" x2="604.7" y2="804.33" stroke="#111" stroke-width="1.9" />
<line x1="917" y1="804.33" x2="909" y2="804.33" stroke="#111" stroke-width="1.9" />
<line x1="596.7" y1="957.15" x2="612.2" y2="957.15" stroke="#111" stroke-width="1.9" />
<line x1="917" y1="957.15" x2="901.5" y2="957.15" stroke="#111" stroke-width="1.9" />
<line x1="596.7" y1="1069.09" x2="604.7" y2="1069.09" stroke="#111" stroke-width="1.9" />
<line x1="917" y1="1069.09" x2="909" y2="1069.09" stroke="#111" stroke-width="1.9" />
<line x1="596.7" y1="1040.89" x2="604.7" y2="1040.89" stroke="#111" stroke-width="1.9" />
<line x1="917" y1="1040.89" x2="909" y2="1040.89" stroke="#111" stroke-width="1.9" />
<line x1="596.7" y1="1020.88" x2="604.7" y2="1020.88" stroke="#111" stroke-width="1.9" />
<line x1="917" y1="1020.88" x2="909" y2="1020.88" stroke="#111" stroke-width="1.9" />
<line x1="596.7" y1="1005.36" x2="604.7" y2="1005.36" stroke="#111" stroke-width="1.9" />
<line x1="917" y1="1005.36" x2="909" y2="1005.36" stroke="#111" stroke-width="1.9" />
<line x1="596.7" y1="992.68" x2="604.7" y2="992.68" stroke="#111" stroke-width="1.9" />
<line x1="917" y1="992.68" x2="909" y2="992.68" stroke="#111" stroke-width="1.9" />
<line x1="596.7" y1="981.96" x2="604.7" y2="981.96" stroke="#111" stroke-width="1.9" />
<line x1="917" y1="981.96" x2="909" y2="981.96" stroke="#111" stroke-width="1.9" />
<line x1="596.7" y1="972.67" x2="604.7" y2="972.67" stroke="#111" stroke-width="1.9" />
<line x1="917" y1="972.67" x2="909" y2="972.67" stroke="#111" stroke-width="1.9" />
<line x1="596.7" y1="964.48" x2="604.7" y2="964.48" stroke="#111" stroke-width="1.9" />
<line x1="917" y1="964.48" x2="909" y2="964.48" stroke="#111" stroke-width="1.9" />
<line x1="596.7" y1="1117.3" x2="612.2" y2="1117.3" stroke="#111" stroke-width="1.9" />
<line x1="917" y1="1117.3" x2="901.5" y2="1117.3" stroke="#111" stroke-width="1.9" />
<line x1="596.7" y1="1229.24" x2="604.7" y2="1229.24" stroke="#111" stroke-width="1.9" />
<line x1="917" y1="1229.24" x2="909" y2="1229.24" stroke="#111" stroke-width="1.9" />
<line x1="596.7" y1="1201.04" x2="604.7" y2="1201.04" stroke="#111" stroke-width="1.9" />
<line x1="917" y1="1201.04" x2="909" y2="1201.04" stroke="#111" stroke-width="1.9" />
<line x1="596.7" y1="1181.03" x2="604.7" y2="1181.03" stroke="#111" stroke-width="1.9" />
<line x1="917" y1="1181.03" x2="909" y2="1181.03" stroke="#111" stroke-width="1.9" />
<line x1="596.7" y1="1165.51" x2="604.7" y2="1165.51" stroke="#111" stroke-width="1.9" />
<line x1="917" y1="1165.51" x2="909" y2="1165.51" stroke="#111" stroke-width="1.9" />
<line x1="596.7" y1="1152.83" x2="604.7" y2="1152.83" stroke="#111" stroke-width="1.9" />
<line x1="917" y1="1152.83" x2="909" y2="1152.83" stroke="#111" stroke-width="1.9" />
<line x1="596.7" y1="1142.11" x2="604.7" y2="1142.11" stroke="#111" stroke-width="1.9" />
<line x1="917" y1="1142.11" x2="909" y2="1142.11" stroke="#111" stroke-width="1.9" />
<line x1="596.7" y1="1132.82" x2="604.7" y2="1132.82" stroke="#111" stroke-width="1.9" />
<line x1="917" y1="1132.82" x2="909" y2="1132.82" stroke="#111" stroke-width="1.9" />
<line x1="596.7" y1="1124.63" x2="604.7" y2="1124.63" stroke="#111" stroke-width="1.9" />
<line x1="917" y1="1124.63" x2="909" y2="1124.63" stroke="#111" stroke-width="1.9" />
<line x1="596.7" y1="1277.45" x2="612.2" y2="1277.45" stroke="#111" stroke-width="1.9" />
<line x1="917" y1="1277.45" x2="901.5" y2="1277.45" stroke="#111" stroke-width="1.9" />
<line x1="596.7" y1="1389.39" x2="604.7" y2="1389.39" stroke="#111" stroke-width="1.9" />
<line x1="917" y1="1389.39" x2="909" y2="1389.39" stroke="#111" stroke-width="1.9" />
<line x1="596.7" y1="1361.19" x2="604.7" y2="1361.19" stroke="#111" stroke-width="1.9" />
<line x1="917" y1="1361.19" x2="909" y2="1361.19" stroke="#111" stroke-width="1.9" />
<line x1="596.7" y1="1341.18" x2="604.7" y2="1341.18" stroke="#111" stroke-width="1.9" />
<line x1="917" y1="1341.18" x2="909" y2="1341.18" stroke="#111" stroke-width="1.9" />
<line x1="596.7" y1="1325.66" x2="604.7" y2="1325.66" stroke="#111" stroke-width="1.9" />
<line x1="917" y1="1325.66" x2="909" y2="1325.66" stroke="#111" stroke-width="1.9" />
<line x1="596.7" y1="1312.98" x2="604.7" y2="1312.98" stroke="#111" stroke-width="1.9" />
<line x1="917" y1="1312.98" x2="909" y2="1312.98" stroke="#111" stroke-width="1.9" />
<line x1="596.7" y1="1302.26" x2="604.7" y2="1302.26" stroke="#111" stroke-width="1.9" />
<line x1="917" y1="1302.26" x2="909" y2="1302.26" stroke="#111" stroke-width="1.9" />
<line x1="596.7" y1="1292.97" x2="604.7" y2="1292.97" stroke="#111" stroke-width="1.9" />
<line x1="917" y1="1292.97" x2="909" y2="1292.97" stroke="#111" stroke-width="1.9" />
<line x1="596.7" y1="1284.78" x2="604.7" y2="1284.78" stroke="#111" stroke-width="1.9" />
<line x1="917" y1="1284.78" x2="909" y2="1284.78" stroke="#111" stroke-width="1.9" />
<line x1="596.7" y1="1437.6" x2="612.2" y2="1437.6" stroke="#111" stroke-width="1.9" />
<line x1="917" y1="1437.6" x2="901.5" y2="1437.6" stroke="#111" stroke-width="1.9" />
<line x1="656.76" y1="797" x2="656.76" y2="805" stroke="#111" stroke-width="1.9" />
<line x1="656.76" y1="1437.6" x2="656.76" y2="1429.6" stroke="#111" stroke-width="1.9" />
<line x1="691.89" y1="797" x2="691.89" y2="805" stroke="#111" stroke-width="1.9" />
<line x1="691.89" y1="1437.6" x2="691.89" y2="1429.6" stroke="#111" stroke-width="1.9" />
<line x1="716.81" y1="797" x2="716.81" y2="805" stroke="#111" stroke-width="1.9" />
<line x1="716.81" y1="1437.6" x2="716.81" y2="1429.6" stroke="#111" stroke-width="1.9" />
<line x1="736.14" y1="797" x2="736.14" y2="805" stroke="#111" stroke-width="1.9" />
<line x1="736.14" y1="1437.6" x2="736.14" y2="1429.6" stroke="#111" stroke-width="1.9" />
<line x1="751.94" y1="797" x2="751.94" y2="805" stroke="#111" stroke-width="1.9" />
<line x1="751.94" y1="1437.6" x2="751.94" y2="1429.6" stroke="#111" stroke-width="1.9" />
<line x1="765.3" y1="797" x2="765.3" y2="805" stroke="#111" stroke-width="1.9" />
<line x1="765.3" y1="1437.6" x2="765.3" y2="1429.6" stroke="#111" stroke-width="1.9" />
<line x1="776.87" y1="797" x2="776.87" y2="805" stroke="#111" stroke-width="1.9" />
<line x1="776.87" y1="1437.6" x2="776.87" y2="1429.6" stroke="#111" stroke-width="1.9" />
<line x1="787.07" y1="797" x2="787.07" y2="805" stroke="#111" stroke-width="1.9" />
<line x1="787.07" y1="1437.6" x2="787.07" y2="1429.6" stroke="#111" stroke-width="1.9" />
<line x1="796.2" y1="797" x2="796.2" y2="812.5" stroke="#111" stroke-width="1.9" />
<line x1="796.2" y1="1437.6" x2="796.2" y2="1422.1" stroke="#111" stroke-width="1.9" />
<line x1="856.26" y1="797" x2="856.26" y2="805" stroke="#111" stroke-width="1.9" />
<line x1="856.26" y1="1437.6" x2="856.26" y2="1429.6" stroke="#111" stroke-width="1.9" />
<line x1="891.39" y1="797" x2="891.39" y2="805" stroke="#111" stroke-width="1.9" />
<line x1="891.39" y1="1437.6" x2="891.39" y2="1429.6" stroke="#111" stroke-width="1.9" />
<line x1="916.31" y1="797" x2="916.31" y2="805" stroke="#111" stroke-width="1.9" />
<line x1="916.31" y1="1437.6" x2="916.31" y2="1429.6" stroke="#111" stroke-width="1.9" />
<text transform="translate(587,813.7) scale(1,1.035)" font-size="31" text-anchor="end" fill="#111" >10<tspan font-size="24" dy="-11.5">6</tspan></text>
<text transform="translate(587,973.4) scale(1,1.035)" font-size="31" text-anchor="end" fill="#111" >10<tspan font-size="24" dy="-11.5">5</tspan></text>
<text transform="translate(587,1133.1) scale(1,1.035)" font-size="31" text-anchor="end" fill="#111" >10<tspan font-size="24" dy="-11.5">4</tspan></text>
<text transform="translate(587,1292.8) scale(1,1.035)" font-size="31" text-anchor="end" fill="#111" >10<tspan font-size="24" dy="-11.5">3</tspan></text>
<text transform="translate(587,1452.5) scale(1,1.035)" font-size="31" text-anchor="end" fill="#111" >10<tspan font-size="24" dy="-11.5">2</tspan></text>
<text transform="translate(596.7,1484) scale(1,1.035)" font-size="31" text-anchor="middle" fill="#111" >10<tspan font-size="24" dy="-11.5">1</tspan></text>
<text transform="translate(796.2,1484) scale(1,1.035)" font-size="31" text-anchor="middle" fill="#111" >10<tspan font-size="24" dy="-11.5">2</tspan></text>
<text transform="translate(753.5,1537.3) scale(1,1.035)" font-size="31.5" text-anchor="middle" fill="#111" >Temperature, <tspan font-style="italic">T</tspan> (K)</text>
<text transform="translate(511.5,1114) rotate(-90) scale(1,1.035)" font-size="31.5" text-anchor="middle" fill="#111">Sheet resistance, <tspan font-style="italic">R</tspan><tspan font-size="24" dy="8" font-style="italic">xx</tspan><tspan dy="-8"> (&#937;)</tspan></text>
<text x="487" y="806" font-size="41.5" font-weight="bold" fill="#000">c</text>
<line x1="392.6" y1="181.5" x2="392.6" y2="328" stroke="#111" stroke-width="1.9" />
<line x1="520.6" y1="141.5" x2="520.6" y2="328" stroke="#111" stroke-width="1.9" />
<line x1="648.8" y1="119.5" x2="648.8" y2="328" stroke="#111" stroke-width="1.9" />
<path d="M137,447 C137.07,439.17 137.25,412 137.4,400 C137.55,388 137.68,384.33 137.9,375 C138.12,365.67 138.35,352.33 138.7,344 C139.05,335.67 139.5,330.5 140,325 C140.5,319.5 141.12,315.17 141.7,311 C142.28,306.83 142.85,304.22 143.5,300 C144.15,295.78 144.37,291.78 145.6,285.7 C146.83,279.62 149.15,269.48 150.9,263.5 C152.65,257.52 154.35,253.67 156.1,249.8 C157.85,245.93 159.63,242.95 161.4,240.3 C163.17,237.65 164.05,236.55 166.7,233.9 C169.35,231.25 173.77,227.22 177.3,224.4 C180.83,221.58 184.38,219.2 187.9,217 C191.42,214.8 194.88,212.97 198.4,211.2 C201.92,209.43 205.47,207.87 209,206.4 C212.53,204.93 216.93,203.35 219.6,202.4 C222.27,201.45 222.33,201.48 225,200.7 C227.67,199.92 232.08,198.68 235.6,197.7 C239.12,196.72 242.58,195.68 246.1,194.8 C249.62,193.92 253.78,193.02 256.7,192.4 C259.62,191.78 261.83,191.67 263.6,191.1 C265.37,190.53 265.8,189.62 267.3,189 C268.8,188.38 269.97,188.02 272.6,187.4 C275.23,186.78 279.58,185.95 283.1,185.3 C286.62,184.65 290.17,184.08 293.7,183.5 C297.23,182.92 300.77,182.28 304.3,181.8 C307.83,181.32 311.45,181.02 314.9,180.6 C318.35,180.18 320.82,179.8 325,179.3 C329.18,178.8 335,178.1 340,177.6 C345,177.1 350,176.72 355,176.3 C360,175.88 365.73,175.47 370,175.1 C374.27,174.73 377.25,174.45 380.6,174.1 C383.95,173.75 387.98,173.08 390.1,173 C392.22,172.92 392.77,173.5 393.3,173.6" fill="none" stroke="#740b0b" stroke-width="2.0" stroke-linejoin="round" stroke-linecap="round" />
<polyline points="392.5,177.3 393.6,171.6 394.4,171 396,169.7 398,168.3 400,166.9 403,164.9 406,163.2 410,161 414,159 418,157.1 422,155.4 426,153.8 430,152.3 434,151 438,149.6 442,148.4 446,147.2 450,146.1 454,145 458,144 462,143 466,142.1 470,141.2 474,140.3 478,139.4 482,138.6 486,137.9 490,137.1 494,136.4 498,135.7 502,135 506,134.3 510,133.6 514,133 518,132.4 519.5,132.2 521.1,133" fill="none" stroke="#740b0b" stroke-width="2.0" stroke-linejoin="round" stroke-linecap="round" />
<polyline points="520.3,135.9 521.4,133.1 522.2,132.1 524,130.1 526,128.3 528,126.7 531,124.7 534,123 538,121 542,119.4 546,118 550,116.7 554,115.6 558,114.5 562,113.6 566,112.7 570,111.9 574,111.2 578,110.5 582,109.8 586,109.2 590,108.6 594,108 598,107.5 602,107 606,106.5 610,106 614,105.6 618,105.1 622,104.7 626,104.3 630,103.9 634,103.6 638,103.2 642,102.8 646,102.5 647.8,102.4" fill="none" stroke="#740b0b" stroke-width="2.0" stroke-linejoin="round" stroke-linecap="round" />
<polyline points="647.8,111 649.2,108.7 650,107.3 651,106.1 652.5,104.9 654,103.9 656,103 658.5,102.1 661,101.4 664,100.7 668,99.9 672,99.3 676,98.8 680,98.4 684,98 688,97.6 692,97.3 696,97 697.7,96.9" fill="none" stroke="#740b0b" stroke-width="2.0" stroke-linejoin="round" stroke-linecap="round" />
<path d="M136.6,596 C136.78,597.7 137.3,602.98 137.7,606.2 C138.1,609.42 138.32,612.65 139,615.3 C139.68,617.95 140.88,620.22 141.8,622.1 C142.72,623.98 143.15,625.4 144.5,626.6 C145.85,627.8 147.72,628.4 149.9,629.3 C152.08,630.2 155.08,631.43 157.6,632 C160.12,632.57 161.67,632.38 165,632.7 C168.33,633.02 172.87,633.43 177.6,633.9 C182.33,634.37 188.12,635.05 193.4,635.5 C198.68,635.95 204.02,636.28 209.3,636.6 C214.58,636.92 219.82,637.13 225.1,637.4 C230.38,637.67 234.65,637.93 241,638.2 C247.35,638.47 259.5,638.87 263.2,639" fill="none" stroke="#151570" stroke-width="2.0" stroke-linejoin="round" stroke-linecap="round" />
<path d="M264.4,607.6 C264.53,610.43 264.82,620.03 265.2,624.6 C265.58,629.17 265.83,632.42 266.7,635 C267.57,637.58 268.55,638.75 270.4,640.1 C272.25,641.45 274.6,642.28 277.8,643.1 C281,643.92 283.93,644.5 289.6,645 C295.27,645.5 304.4,645.8 311.8,646.1 C319.2,646.4 327.83,646.8 334,646.8 C340.17,646.8 344.37,646.72 348.8,646.1 C353.23,645.48 357.15,643.97 360.6,643.1 C364.05,642.23 367.03,641.02 369.5,640.9 C371.97,640.78 373.18,642.03 375.4,642.4 C377.62,642.77 380.08,642.87 382.8,643.1 C385.52,643.33 390.22,643.68 391.7,643.8" fill="none" stroke="#151570" stroke-width="2.0" stroke-linejoin="round" stroke-linecap="round" />
<path d="M392.1,546.3 C392.18,548.02 392.2,554.1 392.6,556.6 C393,559.1 393.38,560.18 394.5,561.3 C395.62,562.42 395.6,562.72 399.3,563.3 C403,563.88 408.52,564.28 416.7,564.8 C424.88,565.32 437.83,566 448.4,566.4 C458.97,566.8 468.07,567.07 480.1,567.2 C492.13,567.33 513.85,567.2 520.6,567.2" fill="none" stroke="#151570" stroke-width="2.0" stroke-linejoin="round" stroke-linecap="round" />
<path d="M520,505.2 C520.17,504.78 519.83,503.22 521,502.7 C522.17,502.18 521.3,502.2 527,502.1 C532.7,502 543.82,502 555.2,502.1 C566.58,502.2 579.9,502.47 595.3,502.7 C610.7,502.93 638.88,503.37 647.6,503.5" fill="none" stroke="#151570" stroke-width="2.0" stroke-linejoin="round" stroke-linecap="round" />
<path d="M648,456.2 C648.43,454.6 649.33,449.5 650.6,446.6 C651.87,443.7 653.43,441.17 655.6,438.8 C657.77,436.43 660.92,433.65 663.6,432.4 C666.28,431.15 668.68,431 671.7,431.3 C674.72,431.6 677.35,432.15 681.7,434.2 C686.05,436.25 695.12,442.03 697.8,443.6" fill="none" stroke="#151570" stroke-width="2.0" stroke-linejoin="round" stroke-linecap="round" />
<line x1="229.9" y1="587.9" x2="260" y2="632.3" stroke="#111" stroke-width="1.9" />
<line x1="348.2" y1="575.9" x2="388.8" y2="635.7" stroke="#111" stroke-width="1.9" />
<line x1="483.3" y1="510.6" x2="519" y2="562.9" stroke="#111" stroke-width="1.9" />
<line x1="617.4" y1="455.7" x2="646.6" y2="499.3" stroke="#111" stroke-width="1.9" />
<line x1="696.8" y1="448.1" x2="687.7" y2="501.3" stroke="#111" stroke-width="1.9" />
<path d="M818.9,128.3 C819.53,131.03 821.57,141.23 822.7,144.7 C823.83,148.17 824.95,147.12 825.7,149.1 C826.45,151.08 826.8,150.88 827.2,156.6 C827.6,162.32 827.7,163.07 828.1,183.4 C828.5,203.73 829.1,242.88 829.6,278.6 C830.1,314.32 830.65,362.97 831.1,397.7 C831.55,432.43 832.05,464.67 832.3,487 C832.55,509.33 832.2,523.75 832.6,531.7 C833,539.65 833.62,534.12 834.7,534.7 C835.78,535.28 837.12,536.3 839.1,535.2 C841.08,534.1 842.38,529.08 846.6,528.1 C850.82,527.12 856.47,528.6 864.4,529.3 C872.33,530 884.1,531.4 894.2,532.3 C904.3,533.2 919.87,534.3 925,534.7" fill="none" stroke="#740b0b" stroke-width="2.0" stroke-linejoin="round" stroke-linecap="round" />
<path d="M818.9,445.3 C819.2,447.28 820.2,451.73 820.7,457.2 C821.2,462.67 821.32,472.13 821.9,478.1 C822.48,484.07 822.57,489.53 824.2,493 C825.83,496.47 828.47,496.42 831.7,498.9 C834.93,501.38 839.63,505.67 843.6,507.9 C847.57,510.13 849.55,510.97 855.5,512.3 C861.45,513.63 870.37,514.5 879.3,515.9 C888.23,517.3 901.48,519.7 909.1,520.7 C916.72,521.7 922.35,521.7 925,521.9" fill="none" stroke="#151570" stroke-width="2.0" stroke-linejoin="round" stroke-linecap="round" />
<line x1="264" y1="134.3" x2="264" y2="153.1" stroke="#c0353d" stroke-width="1.6" />
<path d="M254.2,152.1 L273.8,152.1 L264,184.8 Z" fill="#d02a30"/>
<line x1="391.1" y1="116.5" x2="391.1" y2="135.5" stroke="#c0353d" stroke-width="1.6" />
<path d="M381.3,134.5 L400.9,134.5 L391.1,166.4 Z" fill="#d02a30"/>
<line x1="519.3" y1="74.5" x2="519.3" y2="93.5" stroke="#c0353d" stroke-width="1.6" />
<path d="M509.5,92.5 L529.1,92.5 L519.3,125.9 Z" fill="#d02a30"/>
<line x1="647.3" y1="48.1" x2="647.3" y2="66.9" stroke="#c0353d" stroke-width="1.6" />
<path d="M637.5,65.9 L657.1,65.9 L647.3,97.9 Z" fill="#d02a30"/>
<line x1="698.1" y1="41.3" x2="698.1" y2="61" stroke="#c0353d" stroke-width="1.6" />
<path d="M688.3,60 L707.9,60 L698.1,91.1 Z" fill="#d02a30"/>
<text transform="translate(263,126) scale(1,1.035)" font-size="27" text-anchor="middle" fill="#a8161c" >A</text>
<text transform="translate(390.5,106) scale(1,1.035)" font-size="27" text-anchor="middle" fill="#a8161c" >B</text>
<text transform="translate(518.5,67.4) scale(1,1.035)" font-size="27" text-anchor="middle" fill="#a8161c" >C</text>
<text transform="translate(626.3,60) scale(1,1.035)" font-size="27" text-anchor="middle" fill="#a8161c" >D</text>
<text transform="translate(715,52.6) scale(1,1.035)" font-size="27" text-anchor="middle" fill="#a8161c" >E</text>
<text transform="translate(179,192.3) scale(1,1.035)" font-size="27" fill="#a8161c"><tspan font-style="italic">I</tspan><tspan font-size="20" dy="7" dx="-1">d</tspan></text>
<text transform="translate(199,284) scale(1,1.035)" font-size="27" fill="#111"><tspan font-style="italic">V</tspan><tspan font-size="20" dy="7" dx="-2.5">g</tspan><tspan dy="-7"> = +10 V</tspan></text>
<text transform="translate(412,287.8) scale(1,1.035)" font-size="27" text-anchor="start" fill="#111" >+20 V</text>
<text transform="translate(543.5,287.8) scale(1,1.035)" font-size="27" text-anchor="start" fill="#111" >+30 V</text>
<text transform="translate(662,287.8) scale(1,1.035)" font-size="27" text-anchor="start" fill="#111" >+40 V</text>
<text transform="translate(835.3,287.9) scale(1,1.035)" font-size="27" text-anchor="start" fill="#111" >&#8722;30 V</text>
<text transform="translate(450.5,599.8) scale(1,1.035)" font-size="31.5" fill="#2a30a8"><tspan font-style="italic">I</tspan><tspan font-size="23.5" dy="8" dx="-1.5">g</tspan></text>
<text transform="translate(192,620) rotate(-50) scale(1,1.035)" font-size="31" fill="#2a30a8">5.3 &#215; 10<tspan font-size="22" dy="-12.5">14</tspan><tspan dy="12.5" dx="1.5"> cm</tspan><tspan font-size="22" dy="-12.5">&#8722;2</tspan></text>
<text transform="translate(297,627.5) rotate(-49.3) scale(1,1.035)" font-size="31" fill="#2a30a8">9.3 &#215; 10<tspan font-size="22" dy="-12.5">14</tspan><tspan dy="12.5" dx="1.5"> cm</tspan><tspan font-size="22" dy="-12.5">&#8722;2</tspan></text>
<text transform="translate(437,551) rotate(-49.5) scale(1,1.035)" font-size="31" fill="#2a30a8">4.7 &#215; 10<tspan font-size="22" dy="-12.5">15</tspan><tspan dy="12.5" dx="1.5"> cm</tspan><tspan font-size="22" dy="-12.5">&#8722;2</tspan></text>
<text transform="translate(578,487) rotate(-48.3) scale(1,1.035)" font-size="31" fill="#2a30a8">2.8 &#215; 10<tspan font-size="22" dy="-12.5">16</tspan><tspan dy="12.5" dx="1.5"> cm</tspan><tspan font-size="22" dy="-12.5">&#8722;2</tspan></text>
<text transform="translate(622,638) rotate(-48.3) scale(1,1.035)" font-size="31" fill="#2a30a8">8.9 &#215; 10<tspan font-size="22" dy="-12.5">16</tspan><tspan dy="12.5" dx="1.5"> cm</tspan><tspan font-size="22" dy="-12.5">&#8722;2</tspan></text>
<line x1="141" y1="830" x2="324.2" y2="1436.4" stroke="#a6a6a6" stroke-width="3.8"/>
<circle cx="212" cy="986.6" r="10.5" fill="#7a0a0a"/>
<circle cx="234.9" cy="1057.2" r="10.5" fill="#7a0a0a"/>
<circle cx="302.9" cy="1223" r="10.5" fill="#7a0a0a"/>
<circle cx="377.9" cy="1341.1" r="10.5" fill="#7a0a0a"/>
<circle cx="427.7" cy="1362" r="10.5" fill="#7a0a0a"/>
<text transform="translate(234.6,975.5) scale(1,1.035)" font-size="27" text-anchor="middle" fill="#a51818" >A</text>
<text transform="translate(260.5,1049) scale(1,1.035)" font-size="27" text-anchor="middle" fill="#a51818" >B</text>
<text transform="translate(315.3,1206.6) scale(1,1.035)" font-size="27" text-anchor="middle" fill="#a51818" >C</text>
<text transform="translate(383.2,1322) scale(1,1.035)" font-size="27" text-anchor="middle" fill="#a51818" >D</text>
<text transform="translate(428.1,1342) scale(1,1.035)" font-size="27" text-anchor="middle" fill="#a51818" >E</text>
<path d="M621,910.6 C625.95,910.6 640.1,910.32 650.7,910.6 C661.3,910.88 675.12,911.73 684.6,912.3 C694.08,912.87 702.53,914.4 707.6,914 C712.67,913.6 710.38,911.03 715,909.9 C719.62,908.77 729.1,907.53 735.3,907.2 C741.5,906.87 746.57,907.22 752.2,907.9 C757.83,908.58 763.47,909.72 769.1,911.3 C774.73,912.88 780.35,914.7 786,917.4 C791.65,920.1 797.92,923.85 803,927.5 C808.08,931.15 812,934.22 816.5,939.3 C821,944.38 826.05,951.5 830,958 C833.95,964.5 836.82,970.42 840.2,978.3 C843.58,986.18 847.48,997.42 850.3,1005.3 C853.12,1013.18 854.83,1019.97 857.1,1025.6 C859.37,1031.23 862.22,1036.57 863.9,1039.1 C865.58,1041.63 865.52,1039.1 867.2,1040.8 C868.88,1042.5 871.45,1047.03 874,1049.3 C876.55,1051.57 879.97,1053.83 882.5,1054.4 C885.03,1054.97 887.68,1053.27 889.2,1052.7 C890.72,1052.13 891.2,1051.28 891.6,1051" fill="none" stroke="#740b0b" stroke-width="1.8" stroke-linejoin="round" stroke-linecap="round" />
<path d="M623.7,959.6 C628.2,959.43 640.55,958.42 650.7,958.6 C660.85,958.78 674.45,959.9 684.6,960.7 C694.75,961.5 703.15,962.73 711.6,963.4 C720.05,964.07 726.83,963.8 735.3,964.7 C743.77,965.6 754.5,967.22 762.4,968.8 C770.3,970.38 777.63,972.73 782.7,974.2 C787.77,975.67 788.3,974.95 792.8,977.6 C797.3,980.25 804.05,984.92 809.7,990.1 C815.35,995.28 822.18,1003.63 826.7,1008.7 C831.22,1013.77 833.7,1015.98 836.8,1020.5 C839.9,1025.02 843.72,1030.43 845.3,1035.8 C846.88,1041.17 846.02,1050.45 846.3,1052.7 C846.58,1054.95 845.2,1047.05 847,1049.3 C848.8,1051.55 853.73,1061.13 857.1,1066.2 C860.47,1071.27 863.82,1076.32 867.2,1079.7 C870.58,1083.08 874.28,1085.37 877.4,1086.5 C880.52,1087.63 883.53,1086.95 885.9,1086.5 C888.27,1086.05 890.65,1084.25 891.6,1083.8" fill="none" stroke="#740b0b" stroke-width="1.8" stroke-linejoin="round" stroke-linecap="round" />
<path d="M615.9,1115.3 C627,1115.12 659.95,1114.38 682.5,1114.2 C705.05,1114.02 735.17,1113.97 751.2,1114.2 C767.23,1114.43 771.83,1115.05 778.7,1115.6 C785.57,1116.15 788.28,1116.63 792.4,1117.5 C796.52,1118.37 799.27,1119.2 803.4,1120.8 C807.53,1122.4 813.08,1125.13 817.2,1127.1 C821.32,1129.07 824.45,1130.3 828.1,1132.6 C831.75,1134.9 836.12,1138.38 839.1,1140.9 C842.08,1143.42 843.7,1144.97 846,1147.7 C848.3,1150.43 851.05,1154.57 852.9,1157.3 C854.75,1160.03 855.35,1161.92 857.1,1164.1 C858.85,1166.28 860.65,1168.82 863.4,1170.4 C866.15,1171.98 870.42,1173.38 873.6,1173.6 C876.78,1173.82 879.55,1172.97 882.5,1171.7 C885.45,1170.43 889.83,1166.95 891.3,1166" fill="none" stroke="#740b0b" stroke-width="1.8" stroke-linejoin="round" stroke-linecap="round" />
<line x1="803.4" y1="1117" x2="803.4" y2="1124.5" stroke="#740b0b" stroke-width="1.6" />
<line x1="828.1" y1="1130" x2="828.1" y2="1135.5" stroke="#740b0b" stroke-width="1.6" />
<line x1="846" y1="1144.5" x2="846" y2="1150.5" stroke="#740b0b" stroke-width="1.6" />
<polyline points="622.2,1292.2 626.2,1292.1 630.2,1292 634.2,1291.9 638.2,1291.9 642.2,1291.9 646.2,1291.8 650.2,1291.8 654.2,1291.8 658.2,1291.7 662.2,1291.7 666.2,1291.6 670.2,1291.5 674.2,1291.4 678.2,1291.3 682.2,1291.1 686.2,1291 690.2,1290.8 694.2,1290.6 698.2,1290.4 702.2,1290.2 706.2,1289.9 710.2,1289.7 714.2,1289.4 718.2,1289.1 722.2,1288.9 726.2,1288.6 730.2,1288.3 734.2,1287.9 738.2,1287.6 742.2,1287.3 746.2,1287 750.2,1286.7 754.2,1286.3 758.2,1286 762.2,1285.6 766.2,1285.3 770.2,1284.9 774.2,1284.5 778.2,1284.1 782.2,1283.7 786.2,1283.3 790.2,1282.8 794.2,1282.3 798.2,1281.7 802.2,1281.1 806.2,1280.5 810.2,1279.7 814.2,1278.9 818.2,1278 822.2,1277 826.2,1275.8 830.2,1274.6 834.2,1273.1 838.2,1271.6 842.2,1269.8 846.2,1267.8 850.2,1265.6 854.2,1263.1 858.2,1260.4 862.2,1257.3 866.2,1253.9 870.2,1250.2 874.2,1246.1 878.2,1241.6 882.2,1236.6 886.2,1231.1 890.2,1225.1 891.3,1223.3" fill="none" stroke="#740b0b" stroke-width="1.8" stroke-linejoin="round" stroke-linecap="round" />
<polyline points="700,1318.7 704,1318.5 708,1318.2 712,1318 716,1317.7 720,1317.5 724,1317.2 728,1317 732,1316.7 736,1316.5 740,1316.3 744,1316 748,1315.8 752,1315.6 756,1315.3 760,1315 764,1314.7 768,1314.3 772,1313.9 776,1313.5 780,1312.9 784,1312.3 788,1311.6 792,1310.7 796,1309.8 800,1308.7 804,1307.4 808,1306 812,1304.4 816,1302.7 820,1300.7 824,1298.5 828,1296.1 832,1293.5 836,1290.6 840,1287.6 844,1284.3 848,1280.7 852,1277 856,1273.1 860,1268.9 864,1264.6 868,1260.2 872,1255.6 876,1250.9 880,1246.3 884,1241.6 888,1237 891.3,1233.3" fill="none" stroke="#740b0b" stroke-width="1.8" stroke-linejoin="round" stroke-linecap="round" />
<polyline points="612,1319.3 616,1318.8 620,1318.5 624,1318.4 628,1318.4 632,1318.5 636,1318.6 640,1318.8 644,1319 648,1319.2 652,1319.4 656,1319.5 660,1319.6 664,1319.7 668,1319.7 672,1319.7 676,1319.7 680,1319.6 684,1319.4 688,1319.3 690,1318.9 692.5,1319.2 693.8,1322.3 695,1319.1 700,1318.7" fill="none" stroke="#740b0b" stroke-width="1.8" stroke-linejoin="round" stroke-linecap="round" />
<text transform="translate(636.9,901.1) scale(1,1.035)" font-size="27" text-anchor="middle" fill="#a51818" >A</text>
<text transform="translate(636.9,991.8) scale(1,1.035)" font-size="27" text-anchor="middle" fill="#a51818" >B</text>
<text transform="translate(637,1104) scale(1,1.035)" font-size="27" text-anchor="middle" fill="#a51818" >C</text>
<text transform="translate(637.6,1281.1) scale(1,1.035)" font-size="27" text-anchor="middle" fill="#a51818" >D</text>
<text transform="translate(636.9,1353.5) scale(1,1.035)" font-size="27" text-anchor="middle" fill="#a51818" >E</text>
</svg>
</body></html>
